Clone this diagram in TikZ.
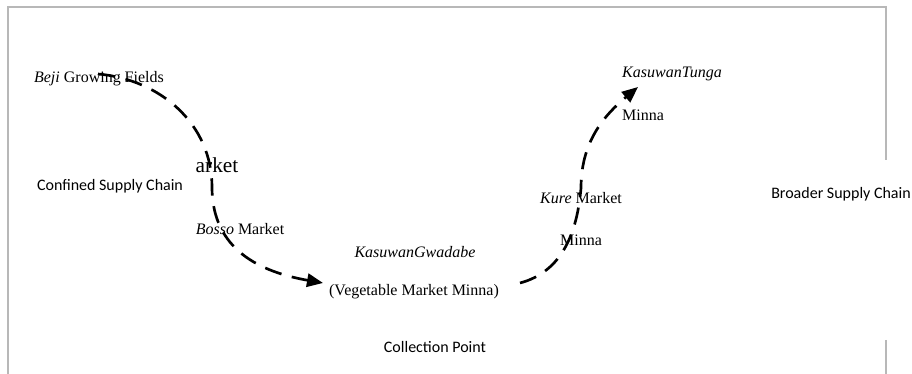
\documentclass[tikz,border=0pt]{standalone}
\usepackage{fontspec}
\setmainfont{Liberation Serif}
\newfontfamily\calibri{Carlito}
\usetikzlibrary{arrows.meta}

\begin{document}
\begin{tikzpicture}[x=0.75pt, y=0.75pt]
	\tikzset{etiquette/.style={inner sep=0pt, font=\fontsize{12}{14}\selectfont},
	legende/.style={inner sep=0pt, font=\calibri\fontsize{12}{14}\selectfont},
	fleche/.style={line width=2pt, dash pattern=on 13pt off 8pt, -{Triangle[length=12pt, width=10pt]}},
	cadre/.style={draw=black!28, line width=1.1pt}};

	\useasboundingbox (0,0) rectangle (912,374);
	\draw[cadre] (8,0) -- (8,367) -- (886,367) -- (886,214);
	\draw[cadre] (886,34) -- (886,0);

	\foreach \nom/\x/\y/\texte in {beji/99/295/{\textit{Beji} Growing Fields}, bosso/240/145/{\textit{Bosso} Market},
		gwadabe/415/122/{\textit{KasuwanGwadabe}}, legume/414/82/{(Vegetable Market Minna)},
		kure/581/176/{\textit{Kure} Market}, minnaB/581/134/{Minna},
		tunga/672/300/{\textit{KasuwanTunga}}, minnaH/643/259/{Minna}}{
		\node[etiquette] (\nom) at (\x, \y) {\texte};
	}
	\node[inner sep=0pt, font=\fontsize{16}{18}\selectfont] (arket) at (217,209) {arket};

	\node[legende] (confine) at (110,188) {Confined Supply Chain};
	\node[legende] (collecte) at (435,27) {Collection Point};
	\node[legende, anchor=west] (large) at (771,180) {Broader Supply Chain};

	\coordinate (d-beji) at (98,300);
	\coordinate (m-bosso) at (212,187);
	\coordinate (f-legume) at (323,91);
	\coordinate (d-legume) at (520,91);
	\coordinate (m-kure) at (581,186);
	\coordinate (f-tunga) at (638,287);

	\draw[fleche] (d-beji) to[out=-5, in=90] (m-bosso) to[out=-90, in=170, looseness=1.1] (f-legume);
	\draw[fleche] (d-legume) to[out=15, in=-95] (m-kure) to[out=90, in=-140] (f-tunga);

\end{tikzpicture}
\end{document}
